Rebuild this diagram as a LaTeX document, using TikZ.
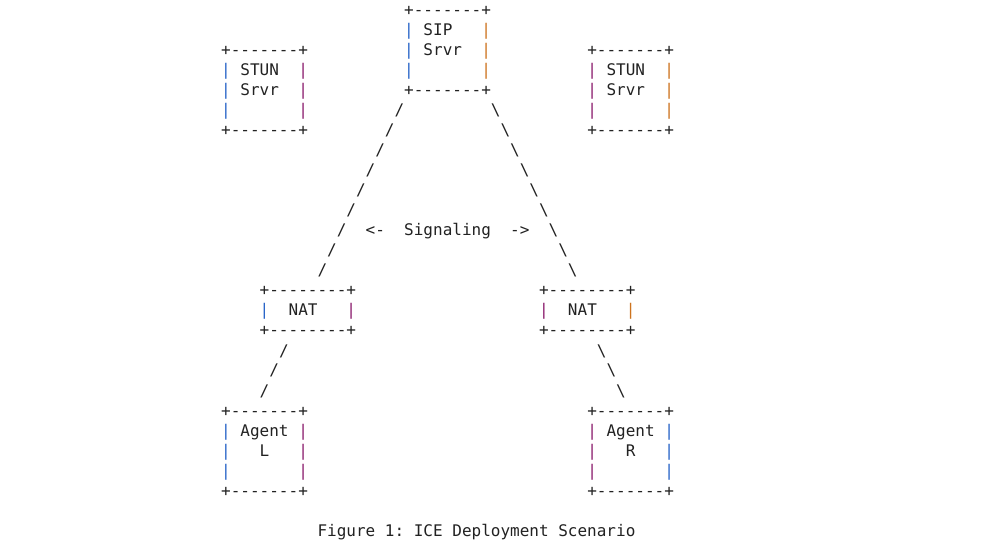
\documentclass[tikz,border=0pt]{standalone}
\usepackage{fontspec}
\setmonofont{DejaVu Sans Mono}
\definecolor{ink}{RGB}{34,34,34}
\definecolor{pb}{RGB}{40,100,200}
\definecolor{po}{RGB}{205,115,30}
\definecolor{pm}{RGB}{140,30,110}
\tikzset{
  asc/.style={anchor=base west,inner sep=0pt,outer sep=0pt,font=\ttfamily\fontsize{16}{20}\selectfont,text=ink},
  lb/.style={text=pb},
  ro/.style={text=po},
  rm/.style={text=pm}
}
\newcommand\At[5][]{\node[asc,#1] (#2) at ({221.2pt+9.633pt*(#3)},{-16pt-20pt*(#4)}) {#5};}
\newcommand\BS{\textbackslash}
\begin{document}
\begin{tikzpicture}
\fill[white] (0,0) rectangle (1007pt,-545pt);
\useasboundingbox (0,0) rectangle (1007pt,-545pt);
% SIP server
\At{sipT}{19}{0}{+-------+}
\At[lb]{sipL1}{19}{1}{|}\At{sipA}{21}{1}{SIP}\At[ro]{sipR1}{27}{1}{|}
\At[lb]{sipL2}{19}{2}{|}\At{sipB}{21}{2}{Srvr}\At[ro]{sipR2}{27}{2}{|}
\At[lb]{sipL3}{19}{3}{|}\At[ro]{sipR3}{27}{3}{|}
\At{sipBot}{19}{4}{+-------+}
% left STUN
\At{slT}{0}{2}{+-------+}
\At[lb]{slL1}{0}{3}{|}\At{slA}{2}{3}{STUN}\At[rm]{slR1}{8}{3}{|}
\At[lb]{slL2}{0}{4}{|}\At{slB}{2}{4}{Srvr}\At[rm]{slR2}{8}{4}{|}
\At[lb]{slL3}{0}{5}{|}\At[rm]{slR3}{8}{5}{|}
\At{slBot}{0}{6}{+-------+}
% right STUN
\At{srT}{38}{2}{+-------+}
\At[rm]{srL1}{38}{3}{|}\At{srA}{40}{3}{STUN}\At[ro]{srR1}{46}{3}{|}
\At[rm]{srL2}{38}{4}{|}\At{srB}{40}{4}{Srvr}\At[ro]{srR2}{46}{4}{|}
\At[rm]{srL3}{38}{5}{|}\At[ro]{srR3}{46}{5}{|}
\At{srBot}{38}{6}{+-------+}
% signaling lines
\At{s5}{18}{5}{/}\At{b5}{28}{5}{\BS}
\At{s6}{17}{6}{/}\At{b6}{29}{6}{\BS}
\At{s7}{16}{7}{/}\At{b7}{30}{7}{\BS}
\At{s8}{15}{8}{/}\At{b8}{31}{8}{\BS}
\At{s9}{14}{9}{/}\At{b9}{32}{9}{\BS}
\At{s10}{13}{10}{/}\At{b10}{33}{10}{\BS}
\At{s11}{12}{11}{/}\At{b11}{34}{11}{\BS}
\At{arl}{15}{11}{<-}\At{sig}{19}{11}{Signaling}\At{arr}{30}{11}{->}
\At{s12}{11}{12}{/}\At{b12}{35}{12}{\BS}
\At{s13}{10}{13}{/}\At{b13}{36}{13}{\BS}
% NATs
\At{nlT}{4}{14}{+--------+}
\At[lb]{nlL}{4}{15}{|}\At{nlA}{7}{15}{NAT}\At[rm]{nlR}{13}{15}{|}
\At{nlBot}{4}{16}{+--------+}
\At{nrT}{33}{14}{+--------+}
\At[rm]{nrL}{33}{15}{|}\At{nrA}{36}{15}{NAT}\At[ro]{nrR}{42}{15}{|}
\At{nrBot}{33}{16}{+--------+}
% NAT to agents
\At{s17}{6}{17}{/}\At{b17}{39}{17}{\BS}
\At{s18}{5}{18}{/}\At{b18}{40}{18}{\BS}
\At{s19}{4}{19}{/}\At{b19}{41}{19}{\BS}
% Agent L
\At{alT}{0}{20}{+-------+}
\At[lb]{alL1}{0}{21}{|}\At{alA}{2}{21}{Agent}\At[rm]{alR1}{8}{21}{|}
\At[lb]{alL2}{0}{22}{|}\At{alB}{4}{22}{L}\At[rm]{alR2}{8}{22}{|}
\At[lb]{alL3}{0}{23}{|}\At[rm]{alR3}{8}{23}{|}
\At{alBot}{0}{24}{+-------+}
% Agent R
\At{arT}{38}{20}{+-------+}
\At[rm]{arL1}{38}{21}{|}\At{arA}{40}{21}{Agent}\At[lb]{arR1}{46}{21}{|}
\At[rm]{arL2}{38}{22}{|}\At{arB}{42}{22}{R}\At[lb]{arR2}{46}{22}{|}
\At[rm]{arL3}{38}{23}{|}\At[lb]{arR3}{46}{23}{|}
\At{arBot}{38}{24}{+-------+}
% caption
\At{cap}{10}{26}{Figure 1: ICE Deployment Scenario}
\end{tikzpicture}
\end{document}
